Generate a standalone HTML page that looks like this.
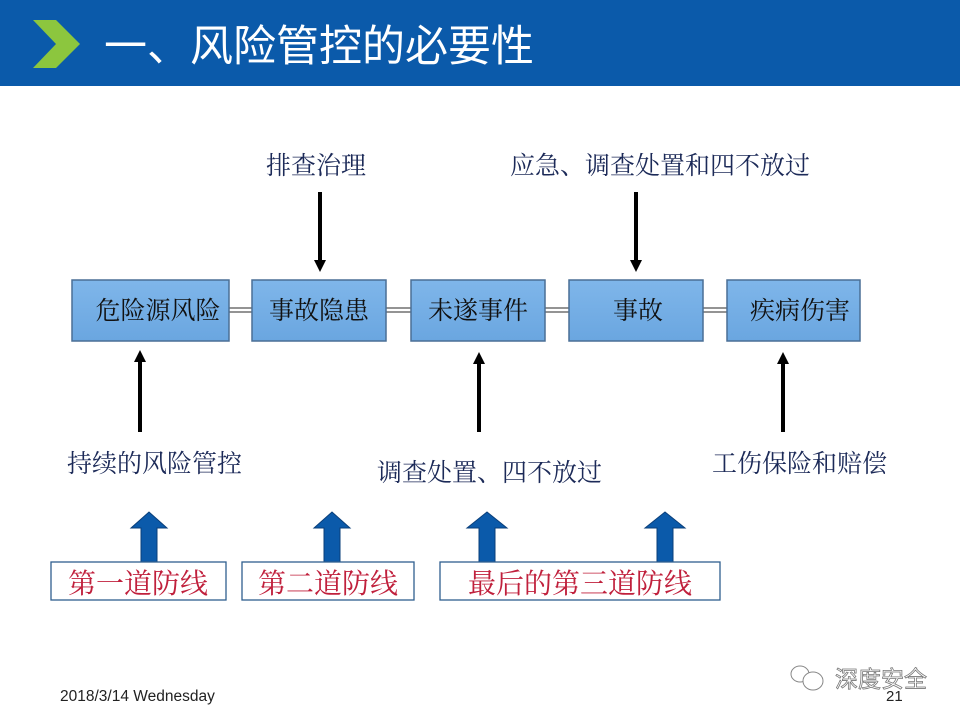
<!DOCTYPE html>
<html><head><meta charset="utf-8"><style>
body{margin:0;width:960px;height:720px;overflow:hidden;background:#fff;font-family:"Liberation Sans","Noto Sans CJK SC",sans-serif}
</style></head><body>
<svg width="960" height="720" xmlns="http://www.w3.org/2000/svg" style="position:absolute;left:0;top:0">
<defs>
<linearGradient id="bx" x1="0" y1="0" x2="0" y2="1"><stop offset="0" stop-color="#7fb6ea"/><stop offset="1" stop-color="#6aa6e0"/></linearGradient>
</defs>
<rect x="0" y="0" width="960" height="86" fill="#0b5aaa"/>
<polygon points="33,20 56,20 80,44 56,68 33,68 56,44" fill="#8cc63e"/>
<text x="104" y="61" font-size="43" fill="#fff" font-family="Liberation Sans,Noto Sans CJK SC,sans-serif">一、风险管控的必要性</text>

<g font-family="Liberation Serif,Noto Serif CJK SC,serif" font-size="25" fill="#1c2a58">
<text x="266" y="174">排查治理</text>
<text x="510" y="174">应急、调查处置和四不放过</text>
<text x="67" y="472">持续的风险管控</text>
<text x="377" y="481">调查处置、四不放过</text>
<text x="712" y="472">工伤保险和赔偿</text>
</g>

<g stroke="#000" stroke-width="4">
<line x1="320" y1="192" x2="320" y2="262"/>
<line x1="636" y1="192" x2="636" y2="262"/>
<line x1="140" y1="432" x2="140" y2="360"/>
<line x1="479" y1="432" x2="479" y2="362"/>
<line x1="783" y1="432" x2="783" y2="362"/>
</g>
<g fill="#000">
<polygon points="314,260 326,260 320,272"/>
<polygon points="630,260 642,260 636,272"/>
<polygon points="134,362 146,362 140,350"/>
<polygon points="473,364 485,364 479,352"/>
<polygon points="777,364 789,364 783,352"/>
</g>

<g stroke="#555" stroke-width="1.3">
<line x1="229" y1="308" x2="252" y2="308"/><line x1="229" y1="312" x2="252" y2="312"/>
<line x1="386" y1="308" x2="411" y2="308"/><line x1="386" y1="312" x2="411" y2="312"/>
<line x1="545" y1="308" x2="569" y2="308"/><line x1="545" y1="312" x2="569" y2="312"/>
<line x1="703" y1="308" x2="727" y2="308"/><line x1="703" y1="312" x2="727" y2="312"/>
</g>
<g stroke="#4a6f95" stroke-width="1.5" fill="url(#bx)">
<rect x="72" y="280" width="157" height="61"/>
<rect x="252" y="280" width="134" height="61"/>
<rect x="411" y="280" width="134" height="61"/>
<rect x="569" y="280" width="134" height="61"/>
<rect x="727" y="280" width="133" height="61"/>
</g>
<g font-family="Liberation Serif,Noto Serif CJK SC,serif" font-size="25" fill="#111" text-anchor="middle">
<text x="158" y="319">危险源风险</text>
<text x="319" y="319">事故隐患</text>
<text x="478" y="319">未遂事件</text>
<text x="638" y="319">事故</text>
<text x="800" y="319">疾病伤害</text>
</g>

<g fill="#0b5aaa" stroke="#0a3f7a" stroke-width="1">
<polygon points="131,528 149,512 167,528 157,528 157,562 141,562 141,528"/>
<polygon points="314,528 332,512 350,528 340,528 340,562 324,562 324,528"/>
<polygon points="467,528 487,512 507,528 495,528 495,562 479,562 479,528"/>
<polygon points="645,528 665,512 685,528 673,528 673,562 657,562 657,528"/>
</g>
<g fill="#fff" stroke="#2f5f8f" stroke-width="1.3">
<rect x="51" y="562" width="175" height="38"/>
<rect x="242" y="562" width="172" height="38"/>
<rect x="440" y="562" width="280" height="38"/>
</g>
<g font-family="Liberation Serif,Noto Serif CJK SC,serif" font-size="28" fill="#c0203c" text-anchor="middle">
<text x="138" y="593">第一道防线</text>
<text x="328" y="593">第二道防线</text>
<text x="580" y="593">最后的第三道防线</text>
</g>

<text x="60" y="701" font-size="15.5" fill="#222">2018/3/14 Wednesday</text>
<text x="835" y="687" font-size="23" fill="#fff" stroke="#777" stroke-width="0.8" font-family="Liberation Sans,Noto Sans CJK SC,sans-serif">深度安全</text>
<g fill="none" stroke="#888" stroke-width="1"><ellipse cx="800" cy="674" rx="9" ry="8"/><ellipse cx="813" cy="681" rx="10" ry="9" fill="#fff"/></g>
<text x="886" y="701" font-size="15" fill="#222">21</text>
</svg>
</body></html>
